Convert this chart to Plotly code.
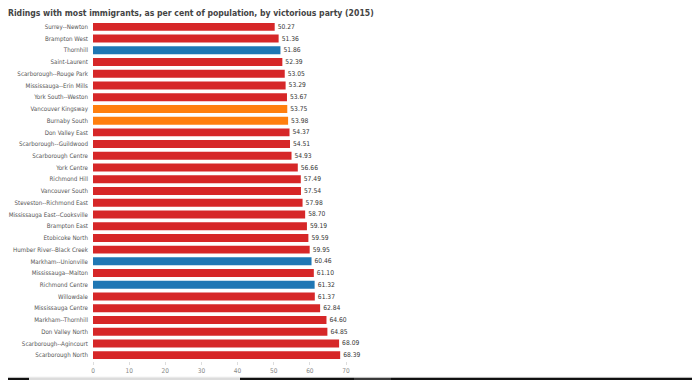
import plotly.graph_objects as go

ridings = ["Surrey--Newton", "Brampton West", "Thornhill", "Saint-Laurent",
           "Scarborough--Rouge Park", "Mississauga--Erin Mills", "York South--Weston",
           "Vancouver Kingsway", "Burnaby South", "Don Valley East",
           "Scarborough--Guildwood", "Scarborough Centre", "York Centre",
           "Richmond Hill", "Vancouver South", "Steveston--Richmond East",
           "Mississauga East--Cooksville", "Brampton East", "Etobicoke North",
           "Humber River--Black Creek", "Markham--Unionville", "Mississauga--Malton",
           "Richmond Centre", "Willowdale", "Mississauga Centre", "Markham--Thornhill",
           "Don Valley North", "Scarborough--Agincourt", "Scarborough North"]
percent = [50.27, 51.36, 51.86, 52.39, 53.05, 53.29, 53.67, 53.75, 53.98, 54.37,
           54.51, 54.93, 56.66, 57.49, 57.54, 57.98, 58.70, 59.19, 59.59, 59.95,
           60.46, 61.10, 61.32, 61.37, 62.84, 64.60, 64.85, 68.09, 68.39]
party = ["Liberal", "Liberal", "Conservative", "Liberal", "Liberal", "Liberal", "Liberal",
         "NDP", "NDP", "Liberal", "Liberal", "Liberal", "Liberal", "Liberal", "Liberal",
         "Liberal", "Liberal", "Liberal", "Liberal", "Liberal", "Conservative", "Liberal",
         "Conservative", "Liberal", "Liberal", "Liberal", "Liberal", "Liberal", "Liberal"]
x_ticks = [0, 10, 20, 30, 40, 50, 60, 70]

party_colors = {"Liberal": "#d62728", "Conservative": "#1f77b4", "NDP": "#ff7f0e"}
colors = [party_colors[p] for p in party]

FONT = "DejaVu Sans Condensed, DejaVu Sans"

fig = go.Figure(go.Bar(
    x=percent, y=ridings, orientation="h",
    marker=dict(color=colors, line=dict(width=0)),
    text=[f"{v:.2f}" for v in percent], textposition="outside",
    textfont=dict(family=FONT, size=6.7, color="#333333"),
    cliponaxis=False, hoverinfo="skip",
))

W, H = 700, 380
OFF = 8  # page body margin
L, T = 85, 13
PW, PH = 253, 340
R, B = W - L - PW, H - T - PH


def px(page_x):
    return (page_x - OFF - L) / PW


def py(page_y):
    return 1 - (page_y - OFF - T) / PH


strip = [(0, 29, "#111111"), (29, 240, "#dcdcdc"), (240, 354, "#111111"),
         (354, 391, "#3a3a3a"), (391, 700, "#111111")]
shapes = [dict(type="rect", xref="paper", yref="paper", x0=px(a), x1=px(b),
               y0=py(381), y1=py(377.8), fillcolor=c, line=dict(width=0), layer="above")
          for a, b, c in strip]
shapes.append(dict(type="rect", xref="paper", yref="paper", x0=px(0), x1=px(700),
                   y0=py(377.8), y1=py(376.8), fillcolor="#e8e8e8", line=dict(width=0),
                   layer="below"))

fig.update_layout(
    width=W, height=H,
    margin=dict(l=L, r=R, t=T, b=B, autoexpand=False),
    paper_bgcolor="white", plot_bgcolor="white",
    bargap=0.32,
    showlegend=False,
    title=dict(text="<b>Ridings with most immigrants, as per cent of population, by victorious party (2015)</b>",
               x=0, xanchor="left", y=1 - 4.5 / H, yanchor="middle", yref="container",
               pad=dict(l=0, t=0, b=0, r=0),
               font=dict(family=FONT, size=8.6, color="#444444")),
    xaxis=dict(range=[0, 70], tickvals=x_ticks, showgrid=False, zeroline=False,
               ticks="outside", ticklen=3, tickcolor="#dddddd", showline=False,
               automargin=False,
               tickfont=dict(family=FONT, size=6.5, color="#888888")),
    yaxis=dict(autorange="reversed", showgrid=False, ticks="", ticklabelstandoff=4,
               automargin=False,
               tickfont=dict(family=FONT, size=6.2, color="#555555")),
    shapes=shapes,
)

fig.write_html("out.html")
